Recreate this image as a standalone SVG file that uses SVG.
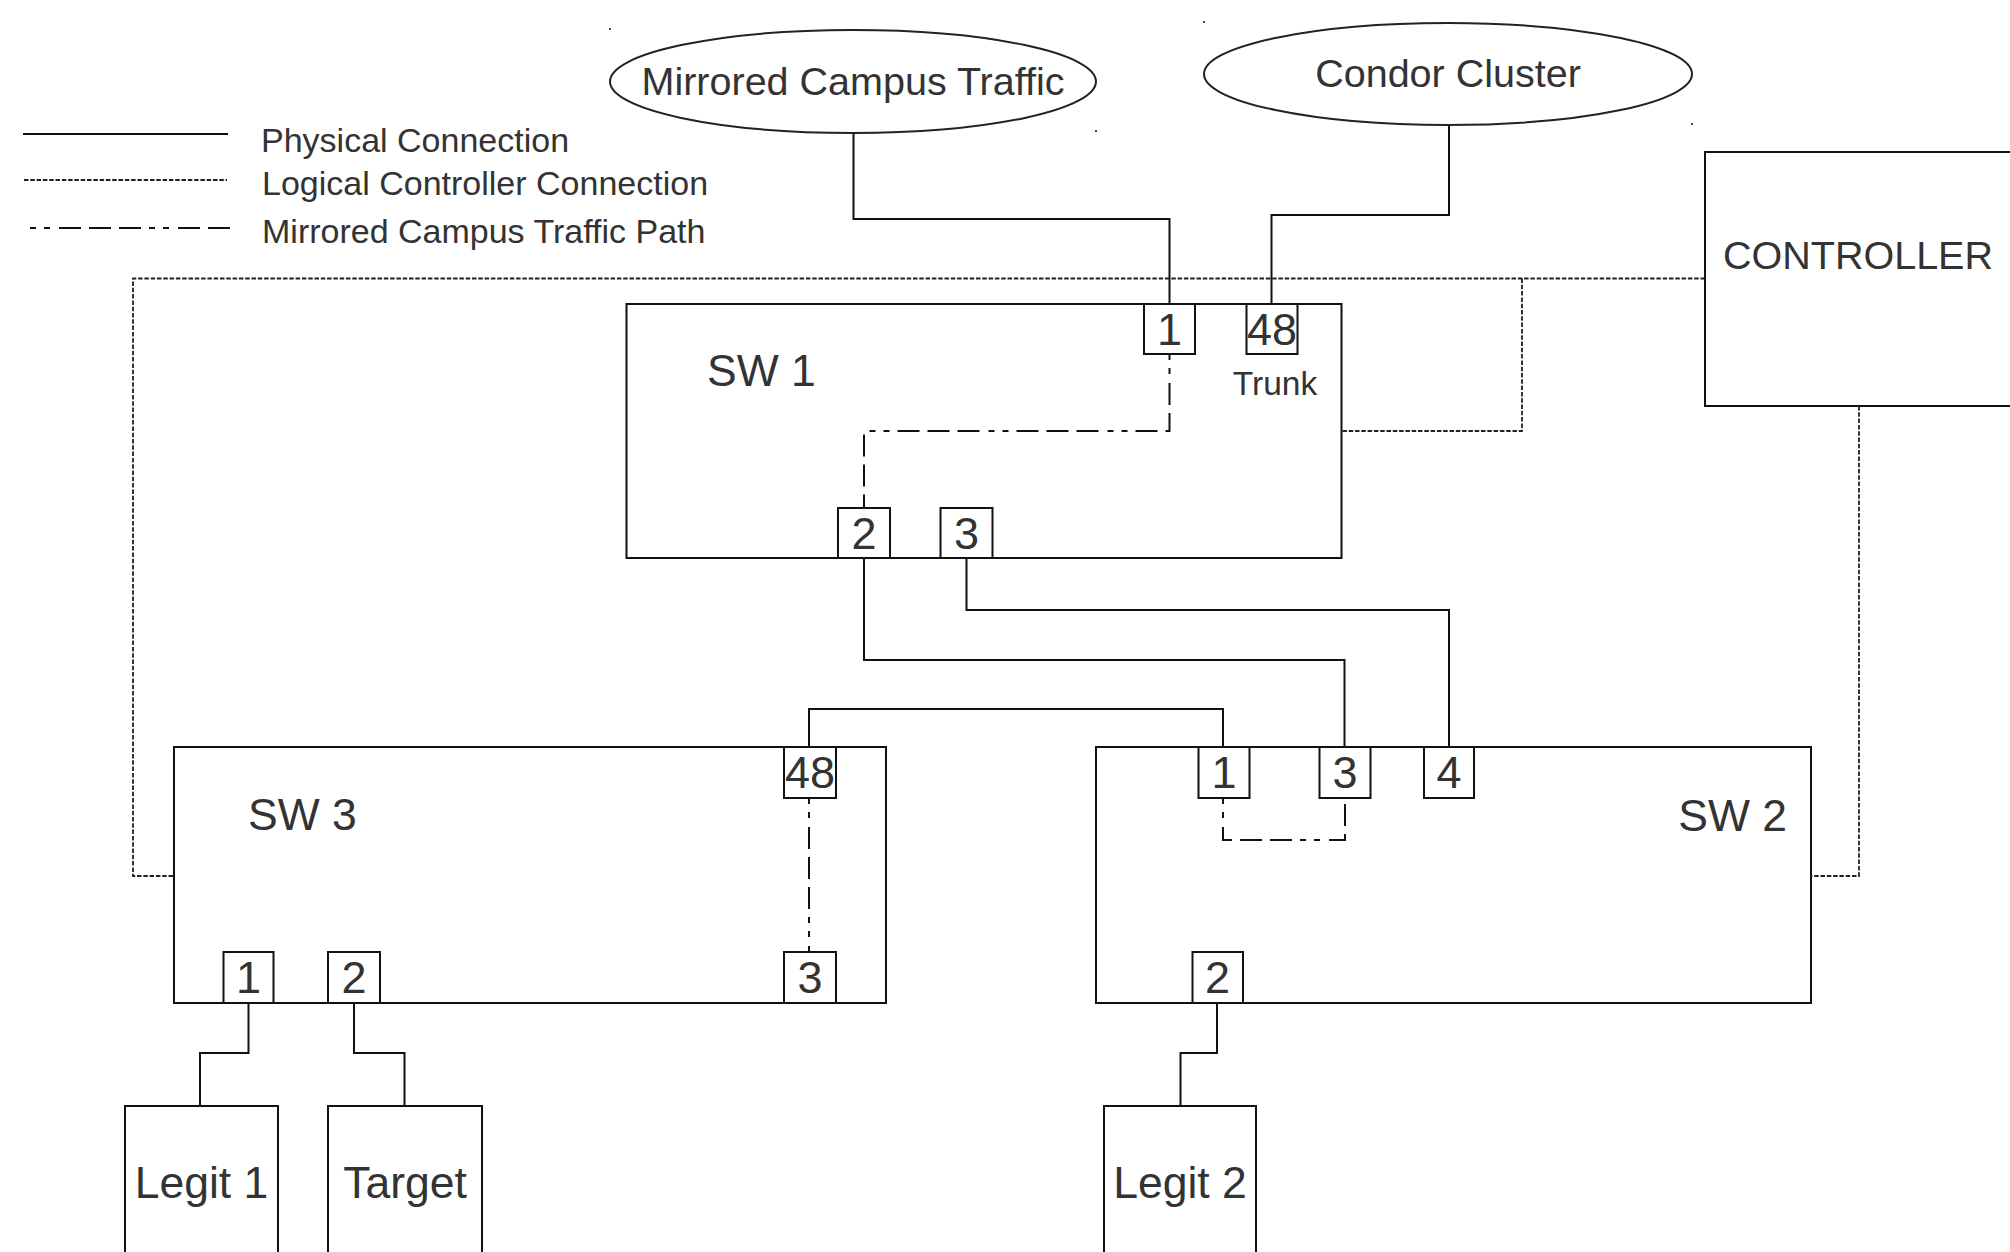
<svg xmlns="http://www.w3.org/2000/svg" width="2010" height="1252" viewBox="0 0 2010 1252">
<defs>
<style>
.bg{fill:#fff}
.box{fill:#fff;stroke:#111;stroke-width:2}
.port{fill:#fff;stroke:#111;stroke-width:2}
.ell{fill:#fff;stroke:#222;stroke-width:2}
text{font-family:"Liberation Sans",Arial,sans-serif;fill:#333}
.lg{font-size:34px}
.el{font-size:39.5px;text-anchor:middle}
.sw{font-size:44.5px}
.pn{font-size:45px;text-anchor:middle}
.host{font-size:44.5px;text-anchor:middle}
.phys{fill:none;stroke:#111;stroke-width:2}
.logi{fill:none;stroke:#222;stroke-width:1.8;stroke-dasharray:4.5 1.8}
.mirr{fill:none;stroke:#111;stroke-width:2;stroke-dasharray:6 8 6 9 22 8 22 8 22 8}
.dot{fill:#444}
</style>
</defs>
<rect class="bg" x="0" y="0" width="2010" height="1252"/>

<g id="legend">
<line class="phys" x1="23" y1="134" x2="228" y2="134"/>
<line class="logi" x1="24" y1="180" x2="227" y2="180"/>
<line class="mirr" x1="30" y1="228" x2="232" y2="228"/>
<text class="lg" x="261" y="152">Physical Connection</text>
<text class="lg" x="262" y="195">Logical Controller Connection</text>
<text class="lg" x="262" y="243">Mirrored Campus Traffic Path</text>
</g>

<g id="mirrored-campus-traffic">
<ellipse class="ell" cx="853" cy="81.5" rx="243" ry="51.5"/>
<text class="el" x="853" y="95">Mirrored Campus Traffic</text>
<rect class="dot" x="609" y="28" width="2" height="2"/>
<rect class="dot" x="1095" y="130" width="2" height="2"/>
</g>

<g id="condor-cluster">
<ellipse class="ell" cx="1448" cy="74" rx="244" ry="51"/>
<text class="el" x="1448" y="87">Condor Cluster</text>
<rect class="dot" x="1203" y="21" width="2" height="2"/>
<rect class="dot" x="1691" y="123" width="2" height="2"/>
</g>

<g id="controller">
<rect class="box" x="1705" y="152" width="330" height="254"/>
<text class="el" x="1858" y="269">CONTROLLER</text>
</g>

<g id="sw1">
<rect class="box" x="626.5" y="304" width="715" height="254"/>
<text class="sw" x="707" y="386">SW 1</text>
<rect class="port" x="1144" y="304" width="51" height="50"/>
<text class="pn" x="1169.5" y="345">1</text>
<rect class="port" x="1246.5" y="304" width="51" height="50"/>
<text class="pn" x="1272" y="345">48</text>
<text style="font-size:33.5px" x="1275" y="395" text-anchor="middle">Trunk</text>
<rect class="port" x="838" y="508" width="52" height="50"/>
<text class="pn" x="864" y="549">2</text>
<rect class="port" x="940.5" y="508" width="52" height="50"/>
<text class="pn" x="966.5" y="549">3</text>
</g>

<g id="sw3">
<rect class="box" x="174" y="747" width="712" height="256"/>
<text class="sw" x="248" y="830">SW 3</text>
<rect class="port" x="784" y="747" width="52" height="51"/>
<text class="pn" x="810" y="788">48</text>
<rect class="port" x="223.5" y="952" width="50" height="51"/>
<text class="pn" x="248.5" y="993">1</text>
<rect class="port" x="328" y="952" width="52" height="51"/>
<text class="pn" x="354" y="993">2</text>
<rect class="port" x="784" y="952" width="52" height="51"/>
<text class="pn" x="810" y="993">3</text>
</g>

<g id="sw2">
<rect class="box" x="1096" y="747" width="715" height="256"/>
<text class="sw" x="1787" y="831" text-anchor="end">SW 2</text>
<rect class="port" x="1198.5" y="747" width="51" height="51"/>
<text class="pn" x="1224" y="788">1</text>
<rect class="port" x="1319.5" y="747" width="51" height="51"/>
<text class="pn" x="1345" y="788">3</text>
<rect class="port" x="1424" y="747" width="50" height="51"/>
<text class="pn" x="1449" y="788">4</text>
<rect class="port" x="1192.5" y="952" width="50.5" height="51"/>
<text class="pn" x="1217.5" y="993">2</text>
</g>

<g id="legit1">
<rect class="box" x="125" y="1106" width="153" height="170"/>
<text class="host" x="201.5" y="1198">Legit 1</text>
</g>

<g id="target">
<rect class="box" x="328" y="1106" width="154" height="170"/>
<text class="host" x="405" y="1198">Target</text>
</g>

<g id="legit2">
<rect class="box" x="1104" y="1106" width="152" height="170"/>
<text class="host" x="1180" y="1198">Legit 2</text>
</g>

<g id="connectors">
<polyline class="phys" points="853.5,133 853.5,219 1169.5,219 1169.5,304"/>
<polyline class="phys" points="1449,125 1449,215 1271.5,215 1271.5,304"/>
<polyline class="phys" points="864,558 864,660 1344.5,660 1344.5,747"/>
<polyline class="phys" points="966.5,558 966.5,610 1449,610 1449,747"/>
<polyline class="phys" points="809,747 809,709 1223,709 1223,747"/>
<polyline class="phys" points="248.5,1003 248.5,1053 200,1053 200,1106"/>
<polyline class="phys" points="354,1003 354,1053 404.5,1053 404.5,1106"/>
<polyline class="phys" points="1217,1003 1217,1053 1180.5,1053 1180.5,1106"/>
<polyline class="logi" points="1705,278.5 133,278.5 133,876 174,876"/>
<polyline class="logi" points="1522,278.5 1522,431 1341.5,431"/>
<polyline class="logi" points="1859,406 1859,876 1811,876"/>
<polyline class="mirr" points="1169.5,354 1169.5,431 864,431 864,508"/>
<polyline class="mirr" points="809,798 809,952"/>
<polyline class="mirr" points="1223,798 1223,840 1345,840 1345,798"/>
</g>
</svg>
